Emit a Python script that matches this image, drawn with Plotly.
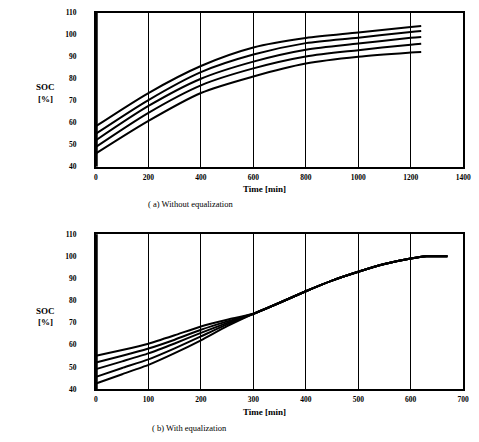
import plotly.graph_objects as go

# ---------- data: (a) without equalization ----------
time_a = [0, 200, 400, 600, 800, 1000, 1200, 1240]
soc_a1 = [58.4, 73.5, 85.8, 94.2, 98.5, 101.0, 103.5, 104.0]
soc_a2 = [55.0, 70.3, 83.0, 91.0, 96.2, 98.7, 101.3, 101.7]
soc_a3 = [52.0, 67.6, 80.0, 87.8, 93.2, 96.0, 98.6, 99.0]
soc_a4 = [49.0, 64.5, 77.0, 84.7, 90.1, 93.0, 95.5, 95.9]
soc_a5 = [46.0, 60.8, 73.5, 81.0, 86.9, 90.0, 91.9, 92.2]

# ---------- data: (b) with equalization ----------
time_b_head = [0, 50, 100, 150, 200, 250]
soc_b1_head = [55.0, 57.6, 60.5, 64.3, 68.3, 71.3]
soc_b2_head = [52.0, 55.0, 58.3, 62.3, 66.8, 70.6]
soc_b3_head = [49.0, 52.5, 56.1, 60.6, 65.4, 69.9]
soc_b4_head = [45.5, 49.5, 53.4, 58.4, 63.8, 69.2]
soc_b5_head = [42.5, 46.7, 50.9, 56.2, 62.0, 68.4]
time_b_tail = [300, 350, 400, 450, 500, 550, 600, 630, 670]
soc_b_tail = [74.0, 79.0, 84.2, 89.0, 93.0, 96.5, 99.0, 100.0, 100.0]

xt_a = [0, 200, 400, 600, 800, 1000, 1200, 1400]
xt_b = [0, 100, 200, 300, 400, 500, 600, 700]
yt = [40, 50, 60, 70, 80, 90, 100, 110]

W, H = 479, 442
SERIF = "Liberation Serif"

fig = go.Figure()

for s in [soc_a1, soc_a2, soc_a3, soc_a4, soc_a5]:
    fig.add_trace(go.Scatter(x=time_a, y=s, mode="lines", xaxis="x", yaxis="y",
                             line=dict(color="black", width=2, shape="spline", smoothing=0.8),
                             showlegend=False, hoverinfo="skip"))

for h in [soc_b1_head, soc_b2_head, soc_b3_head, soc_b4_head, soc_b5_head]:
    fig.add_trace(go.Scatter(x=time_b_head + time_b_tail, y=h + soc_b_tail, mode="lines",
                             xaxis="x2", yaxis="y2",
                             line=dict(color="black", width=2, shape="spline", smoothing=0.5),
                             showlegend=False, hoverinfo="skip"))

def px_x(p):
    return p / W

def px_y(p):
    return 1 - p / H

tickfont = dict(family=SERIF, size=7.5, color="black", weight="bold")
xdom = [px_x(96), px_x(471)]

common_x = dict(showline=True, linecolor="black", linewidth=2, mirror=True,
                showgrid=True, gridcolor="black", gridwidth=1, zeroline=False,
                ticks="", tickfont=tickfont, ticklabelstandoff=2)
common_y = dict(showline=True, linecolor="black", linewidth=2, mirror=True,
                showgrid=False, zeroline=False, ticks="", tickfont=tickfont,
                tickvals=yt, range=[40, 110], ticklabelstandoff=16)

fig.update_layout(
    width=W, height=H,
    margin=dict(l=0, r=0, t=0, b=0),
    paper_bgcolor="white", plot_bgcolor="white",
    xaxis=dict(domain=xdom, anchor="y", range=[0, 1400], tickvals=xt_a, **common_x),
    yaxis=dict(domain=[px_y(166), px_y(9)], anchor="x", **common_y),
    xaxis2=dict(domain=xdom, anchor="y2", range=[0, 700], tickvals=xt_b, **common_x),
    yaxis2=dict(domain=[px_y(393), px_y(235)], anchor="x2", **common_y),
)

# thicker left border, as in the scanned original
for y0, y1 in [(166, 9), (393, 235)]:
    fig.add_shape(type="line", xref="paper", yref="paper",
                  x0=px_x(96), x1=px_x(96), y0=px_y(y0), y1=px_y(y1),
                  line=dict(color="black", width=3.5))

labfont = dict(family=SERIF, size=9, color="black", weight="bold")
capfont = dict(family=SERIF, size=8.5, color="black")

def ann(text, x, y, font):
    fig.add_annotation(text=text, x=px_x(x), y=px_y(y), xref="paper", yref="paper",
                       showarrow=False, font=font, xanchor="center", yanchor="middle")

ann("SOC", 44, 85, labfont)
ann("[%]", 44, 97, labfont)
ann("SOC", 44, 313, labfont)
ann("[%]", 44, 325, labfont)
ann("Time [min]", 268, 189, labfont)
ann("Time [min]", 268, 416, labfont)
ann("( a) Without equalization", 193, 204, capfont)
ann("( b) With equalization", 192, 433, capfont)

fig.write_html("out.html")
